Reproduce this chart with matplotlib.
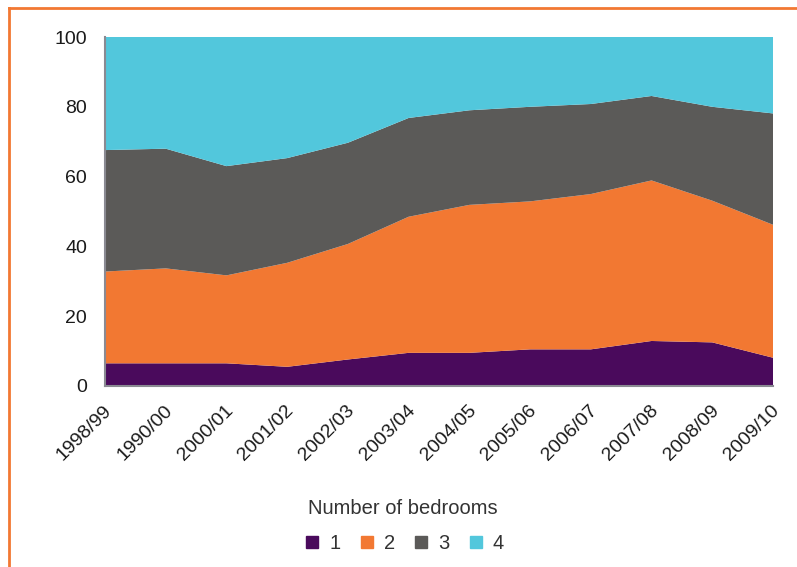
import matplotlib.pyplot as plt
import matplotlib.transforms as mtransforms
from matplotlib.lines import Line2D
import numpy as np

plt.rcParams['font.family'] = ['Liberation Sans', 'DejaVu Sans']

# Share of dwellings by number of bedrooms, per year
years = ['1998/99', '1990/00', '2000/01', '2001/02', '2002/03', '2003/04',
         '2004/05', '2005/06', '2006/07', '2007/08', '2008/09', '2009/10']
bed_1 = [6.5, 6.5, 6.5, 5.5, 7.6, 9.5, 9.5, 10.5, 10.5, 12.9, 12.5, 8.1]
bed_2 = [26.3, 27.2, 25.2, 29.8, 33.1, 39.0, 42.4, 42.4, 44.5, 46.0, 40.6, 38.1]
bed_3 = [34.8, 34.3, 31.3, 30.0, 29.0, 28.3, 27.1, 27.1, 25.8, 24.2, 26.9, 31.9]
bed_4 = [32.4, 32.0, 37.0, 34.7, 30.3, 23.2, 21.0, 20.0, 19.2, 16.9, 20.0, 21.9]

series_labels = ['1', '2', '3', '4']
colors = ['#4a0a5c', '#f27832', '#5b5a58', '#52c7dc']

fig = plt.figure(figsize=(7.97, 5.67), dpi=100)
ax = fig.add_axes([105 / 797, 1 - 386 / 567, (773 - 105) / 797, (386 - 37) / 567])

x = np.arange(len(years))
ax.stackplot(x, bed_1, bed_2, bed_3, bed_4, colors=colors, linewidth=0)

ax.set_xlim(0, len(years) - 1)
ax.set_ylim(0, 100)
ax.set_yticks([0, 20, 40, 60, 80, 100])
ax.set_xticks(x)
ax.set_xticklabels(years, rotation=45, ha='right', va='center',
                   rotation_mode='anchor')
ax.tick_params(axis='both', length=0, labelsize=14, colors='#1a1a1a')
ax.tick_params(axis='y', pad=13)
ax.tick_params(axis='x', pad=16)

# nudge the slanted year labels a little to the right
shift = mtransforms.ScaledTranslation(4 / 100, 0, fig.dpi_scale_trans)
for lbl in ax.get_xticklabels():
    lbl.set_transform(lbl.get_transform() + shift)

for side in ['top', 'right']:
    ax.spines[side].set_visible(False)
for side in ['left', 'bottom']:
    ax.spines[side].set_color('#8a8a92')
    ax.spines[side].set_linewidth(1.5)

# legend with square markers under the chart
handles = [Line2D([], [], marker='s', linestyle='none', markersize=9,
                  markerfacecolor=c, markeredgecolor=c) for c in colors]
leg = fig.legend(handles, series_labels, loc='center', ncol=4,
                 bbox_to_anchor=(403 / 797, 1 - 526 / 567),
                 frameon=False, fontsize=14.5, title='Number of bedrooms',
                 title_fontsize=14.5, handletextpad=0.35, columnspacing=0.8,
                 handlelength=1.0, labelcolor='#333333')
leg.get_title().set_color('#333333')
leg._legend_box.sep = 12

# orange frame along the top and left edges
fig.add_artist(Line2D([9 / 797, 9 / 797], [0, 1 - 8 / 567], color='#f27832',
                      linewidth=2, transform=fig.transFigure))
fig.add_artist(Line2D([9 / 797, 1], [1 - 8 / 567, 1 - 8 / 567], color='#f27832',
                      linewidth=2, transform=fig.transFigure))

fig.savefig('out.png', dpi=100)
